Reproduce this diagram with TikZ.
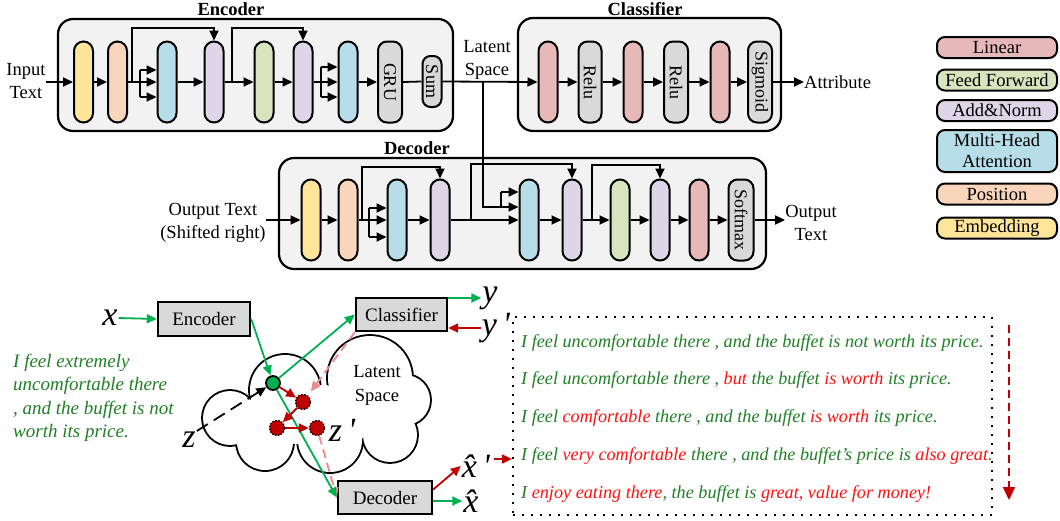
\documentclass[tikz,border=0pt]{standalone}
\usepackage{fontspec}
\setmainfont{Liberation Serif}
\usetikzlibrary{arrows.meta,calc}
\definecolor{cLin}{HTML}{E6B8B7}
\definecolor{cFF}{HTML}{D7E4BD}
\definecolor{cAN}{HTML}{DDD6E8}
\definecolor{cMHA}{HTML}{B7DEE8}
\definecolor{cPos}{HTML}{F9D5BC}
\definecolor{cEmb}{HTML}{FEE599}
\definecolor{cGray}{HTML}{D9D9D9}
\definecolor{cBox}{HTML}{F2F2F2}
\definecolor{gArr}{HTML}{00B050}
\definecolor{rArr}{HTML}{C00000}
\definecolor{pArr}{HTML}{EF8A8A}
\definecolor{gTxt}{HTML}{1F7F25}
\definecolor{rTxt}{HTML}{FF1010}
\tikzset{
  pill/.style={draw, line width=2pt, rounded corners=9.5pt, minimum width=19pt, minimum height=81pt, inner sep=0pt},
  gpill/.style={pill, fill=cGray, rounded corners=9pt, minimum width=24pt},
  bigbox/.style={draw, line width=2.2pt, fill=cBox, rounded corners=15pt, inner sep=0pt},
  ttl/.style={font=\fontsize{18.5}{22}\selectfont\bfseries, inner sep=0pt},
  lbl/.style={font=\fontsize{18.5}{23}\selectfont, align=center, inner sep=0pt},
  rlbl/.style={font=\fontsize{18}{20}\selectfont, rotate=-90, inner sep=0pt},
  ln/.style={line width=1.8pt},
  arr/.style={line width=1.8pt, -{Triangle[length=10pt,width=9pt]}},
  leg/.style={draw, line width=2pt, rounded corners=8pt, minimum width=120pt, minimum height=21pt, inner sep=0pt, font=\fontsize{18.5}{21}\selectfont},
  gbox/.style={draw, line width=2.4pt, fill=cGray, inner sep=0pt, font=\fontsize{19}{22}\selectfont},
  mlet/.style={font=\fontsize{34}{38}\selectfont\itshape, inner sep=1pt},
  garr/.style={draw=gArr, line width=1.8pt, -{Triangle[length=10pt,width=9pt,fill=gArr]}},
  rarr/.style={draw=rArr, line width=1.8pt, -{Triangle[length=10pt,width=9pt,fill=rArr]}},
  pdarr/.style={draw=pArr, line width=1.8pt, dash pattern=on 9pt off 5pt, -{Triangle[length=10pt,width=9pt,fill=pArr]}},
  zarr/.style={draw=black, line width=1.8pt, dash pattern=on 13pt off 7pt, -{Triangle[length=10pt,width=9pt]}},
  gdotst/.style={circle, draw, line width=1.8pt, fill=gArr, minimum size=14pt, inner sep=0pt},
  rdot/.style={circle, draw=black, dash pattern=on 1.5pt off 1.5pt, line width=1.4pt, fill=rArr, minimum size=15pt, inner sep=0pt},
  stxt/.style={font=\fontsize{18.2}{20}\selectfont\itshape, anchor=west, inner sep=0pt, text=gTxt},
}
\begin{document}
\begin{tikzpicture}[x=1pt,y=-1pt]
\useasboundingbox (0,0) rectangle (1060,520);

% ---------- big boxes ----------
\node[bigbox, minimum width=395pt, minimum height=112pt] (encbox) at (255.5,75) {};
\node[bigbox, minimum width=263pt, minimum height=113pt] (clsbox) at (649.5,74.5) {};
\node[bigbox, minimum width=487pt, minimum height=111pt] (decbox) at (522.5,213.5) {};
\node[ttl] (enct) at (231,9) {Encoder};
\node[ttl] (clst) at (645,9) {Classifier};
\node[ttl] (dect) at (417,148) {Decoder};

% ---------- encoder ----------
\node[lbl] (intext) at (26,81) {Input\\Text};
\node[pill, fill=cEmb] (e1) at (83.5,82) {};
\node[pill, fill=cPos] (e2) at (117.5,82) {};
\node[pill, fill=cMHA] (e3) at (167,82) {};
\node[pill, fill=cAN] (e4) at (214,82) {};
\node[pill, fill=cFF] (e5) at (264,82) {};
\node[pill, fill=cAN] (e6) at (303,82) {};
\node[pill, fill=cMHA] (e7) at (348,82) {};
\node[gpill] (e8) at (390,82) {};
\node[rlbl] (e8t) at (e8) {GRU};
\node[gpill, minimum width=19pt, minimum height=51pt, rounded corners=8pt] (e9) at (432,81.5) {};
\node[rlbl] (e9t) at (e9) {Sum};

\draw[arr] (intext.east |- e1.west) -- (e1.west);
\draw[arr] (e1.east) -- (e2.west);
\coordinate (er1) at (132,82); \coordinate (er1t) at (132,28);
\coordinate (ef1) at (140,82); \coordinate (ef1t) at (140,70); \coordinate (ef1b) at (140,97);
\draw[ln] (e2.east) -- (ef1);
\draw[ln] (ef1t) -- (ef1b);
\draw[arr] (ef1) -- (e3.west);
\draw[arr] (ef1t) -- (ef1t -| e3.west);
\draw[arr] (ef1b) -- (ef1b -| e3.west);
\draw[arr] (er1) -- (er1t) -| (e4.north);
\draw[arr] (e3.east) -- (e4.west);
\draw[arr] (e4.east) -- (e5.west);
\coordinate (er2) at (232,82); \coordinate (er2t) at (232,28);
\draw[arr] (er2) -- (er2t) -| (e6.north);
\draw[arr] (e5.east) -- (e6.west);
\coordinate (ef2) at (321,82); \coordinate (ef2t) at (321,67); \coordinate (ef2b) at (321,97);
\draw[ln] (e6.east) -- (ef2);
\draw[ln] (ef2t) -- (ef2b);
\draw[arr] (ef2) -- (e7.west);
\draw[arr] (ef2t) -- (ef2t -| e7.west);
\draw[arr] (ef2b) -- (ef2b -| e7.west);
\draw[arr] (e7.east) -- (e8.west);
\draw[ln] (e8.east) -- (e9.west);

% ---------- classifier ----------
\node[pill, fill=cLin] (c1) at (548,82) {};
\node[gpill, minimum width=23pt] (c2) at (590,82) {};
\node[rlbl] (c2t) at (c2) {Relu};
\node[pill, fill=cLin] (c3) at (633,82) {};
\node[gpill] (c4) at (676,82) {};
\node[rlbl] (c4t) at (c4) {Relu};
\node[pill, fill=cLin] (c5) at (720,82) {};
\node[gpill] (c6) at (760,82) {};
\node[rlbl] (c6t) at (c6) {Sigmoid};
\node[lbl, anchor=west] (attr) at (804,82) {Attribute};
\draw[arr] (c1.east) -- (c2.west);
\draw[arr] (c2.east) -- (c3.west);
\draw[arr] (c3.east) -- (c4.west);
\draw[arr] (c4.east) -- (c5.west);
\draw[arr] (c5.east) -- (c6.west);
\draw[arr] (c6.east) -- (attr.west);

% ---------- latent ----------
\node[lbl] (latlbl) at (487,60) {Latent\\Space};
\draw[arr] (e9.east) -- (c1.west);

% ---------- decoder ----------
\node[lbl] (otext) at (213,223) {Output Text\\(Shifted right)};
\node[pill, fill=cEmb] (d1) at (311,220) {};
\node[pill, fill=cPos] (d2) at (348,220) {};
\node[pill, fill=cMHA] (d3) at (397,220) {};
\node[pill, fill=cAN] (d4) at (440,220) {};
\node[pill, fill=cMHA] (d5) at (529,220) {};
\node[pill, fill=cAN] (d6) at (572,220) {};
\node[pill, fill=cFF] (d7) at (620,220) {};
\node[pill, fill=cAN] (d8) at (660,220) {};
\node[pill, fill=cLin] (d9) at (699,220) {};
\node[gpill, minimum width=25pt] (d10) at (741,220) {};
\node[rlbl] (d10t) at (d10) {Softmax};
\node[lbl] (otext2) at (811,223) {Output\\Text};

\draw[arr] (d1.west -| otext.east) -- (d1.west);
\draw[arr] (d1.east) -- (d2.west);
\coordinate (dr1) at (362,220); \coordinate (dr1t) at (362,167);
\coordinate (df1) at (369,220); \coordinate (df1t) at (369,208); \coordinate (df1b) at (369,237);
\draw[ln] (d2.east) -- (df1);
\draw[ln] (df1t) -- (df1b);
\draw[arr] (df1) -- (d3.west);
\draw[arr] (df1t) -- (df1t -| d3.west);
\draw[arr] (df1b) -- (df1b -| d3.west);
\draw[arr] (dr1) -- (dr1t) -| (d4.north);
\draw[arr] (d3.east) -- (d4.west);
\draw[arr] (d4.east) -- (d5.west);
\coordinate (dr2) at (471,220); \coordinate (dr2t) at (471,164);
\draw[arr] (dr2) -- (dr2t) -| (d6.north);
\coordinate (lat) at (483,82); \coordinate (latb) at (483,207);
\coordinate (latf) at (501,207); \coordinate (latft) at (501,192);
\draw[ln] (lat) -- (latb) -- (latf);
\draw[ln] (latf) -- (latft);
\draw[arr] (latf) -- (latf -| d5.west);
\draw[arr] (latft) -- (latft -| d5.west);
\draw[arr] (d5.east) -- (d6.west);
\draw[arr] (d6.east) -- (d7.west);
\coordinate (dr3) at (592,220); \coordinate (dr3t) at (592,165);
\draw[arr] (dr3) -- (dr3t) -| (d8.north);
\draw[arr] (d7.east) -- (d8.west);
\draw[arr] (d8.east) -- (d9.west);
\draw[arr] (d9.east) -- (d10.west);
\draw[arr] (d10.east) -- (d10.east -| otext2.west);

% ---------- legend ----------
\node[leg, fill=cLin] (lg1) at (997,47.5) {Linear};
\node[leg, fill=cFF] (lg2) at (997,80) {Feed Forward};
\node[leg, fill=cAN] (lg3) at (997,110.5) {Add\&Norm};
\node[leg, fill=cMHA, minimum height=42pt, align=center] (lg4) at (997,151) {Multi-Head\\Attention};
\node[leg, fill=cPos] (lg5) at (997,194) {Position};
\node[leg, fill=cEmb] (lg6) at (997,228) {Embedding};

% ---------- bottom: cloud ----------
\foreach \cx/\cy/\r in {230/418/27, 285/390/35, 370/378/42, 405/400/25, 390/435/27, 330/440/32, 265/442/28}
  \draw[line width=3.8pt] (\cx,\cy) circle (\r);
\foreach \cx/\cy/\r in {230/418/27, 285/390/35, 370/378/42, 405/400/25, 390/435/27, 330/440/32, 265/442/28}
  \fill[white] (\cx,\cy) circle (\r);
\fill[white] (315,415) ellipse (75 and 30);
\node[lbl, font=\fontsize{18.5}{24}\selectfont] (cloudt) at (377,385) {Latent\\Space};

% ---------- bottom: boxes ----------
\node[gbox, minimum width=92pt, minimum height=34pt] (be) at (204,319) {Encoder};
\node[gbox, minimum width=91pt, minimum height=33pt] (bc) at (401.5,314.5) {Classifier};
\node[gbox, minimum width=94pt, minimum height=33pt] (bd) at (385,497.5) {Decoder};

\node[mlet] (bx) at (110,318) {x};
\node[mlet] (zl) at (189,440) {z};
\node[mlet] (zp) at (342,430) {z\,\textquotesingle};
\node[mlet] (yl) at (490,298) {y};
\node[mlet] (ypl) at (496,328) {y\,\textquotesingle};
\node[mlet] (xhp) at (476,466) {\^{x}\,\textquotesingle};
\node[mlet] (xh) at (471,501) {\^{x}};

\node[gdotst] (gd) at (273,383) {};
\node[rdot] (r1) at (303,402) {};
\node[rdot] (r2) at (277,428) {};
\node[rdot] (r3) at (317,428) {};

\draw[garr] (bx.east) -- (be.west);
\draw[garr] (be.east) -- (gd);
\draw[garr] (gd) -- (bc.west);
\draw[pdarr, shorten >=5pt] (bc.south west) -- (r1);
\draw[pdarr] (r3) -- (bd.west);
\draw[garr] (gd) -- (bd.west);
\draw[zarr] (zl.north east) -- (gd);
\draw[rarr] (gd) -- (r1);
\draw[rarr] (r1) -- (r2);
\draw[rarr] (r2) -- (r3);
\draw[garr] (bc.east |- yl.west) -- (yl.west);
\draw[rarr] (ypl.west) -- (ypl.west -| bc.east);
\draw[rarr] ($(bd.east)+(0,-8)$) -- (xhp.west);
\draw[garr] (bd.east |- xh.west) -- (xh.west);

% ---------- left text ----------
\node[stxt, align=left, font=\fontsize{19}{23.5}\selectfont\itshape] (lt) at (13,398) {I feel extremely\\uncomfortable there\\, and the buffet is not\\worth its price.};

% ---------- text box ----------
\node[draw, line width=2.2pt, dash pattern=on 1.8pt off 7.2pt, minimum width=479pt, minimum height=198pt, inner sep=0pt] (tb) at (752.5,416) {};
\coordinate (xhpo) at (494,459);
\draw[rarr] (xhpo) -- (xhpo -| tb.west);
\coordinate (va) at (1009,325); \coordinate (vb) at (1009,500);
\draw[draw=rArr, line width=2.2pt, dash pattern=on 8pt off 5pt, -{Triangle[length=13pt,width=12pt,fill=rArr]}] (va) -- (vb);

\node[stxt] (t1) at (521,343) {I feel uncomfortable there , and the buffet is not worth its price.};
\node[stxt] (t2) at (521,380) {I feel uncomfortable there , \textcolor{rTxt}{but} the buffet \textcolor{rTxt}{is worth} its price.};
\node[stxt] (t3) at (521,418) {I feel \textcolor{rTxt}{comfortable} there , and the buffet \textcolor{rTxt}{is worth} its price.};
\node[stxt] (t4) at (521,456) {I feel \textcolor{rTxt}{very comfortable} there , and the buffet's price is \textcolor{rTxt}{also great}.};
\node[stxt] (t5) at (521,494) {I \textcolor{rTxt}{enjoy eating there}, the buffet is \textcolor{rTxt}{great, value for money!}};
\end{tikzpicture}
\end{document}
